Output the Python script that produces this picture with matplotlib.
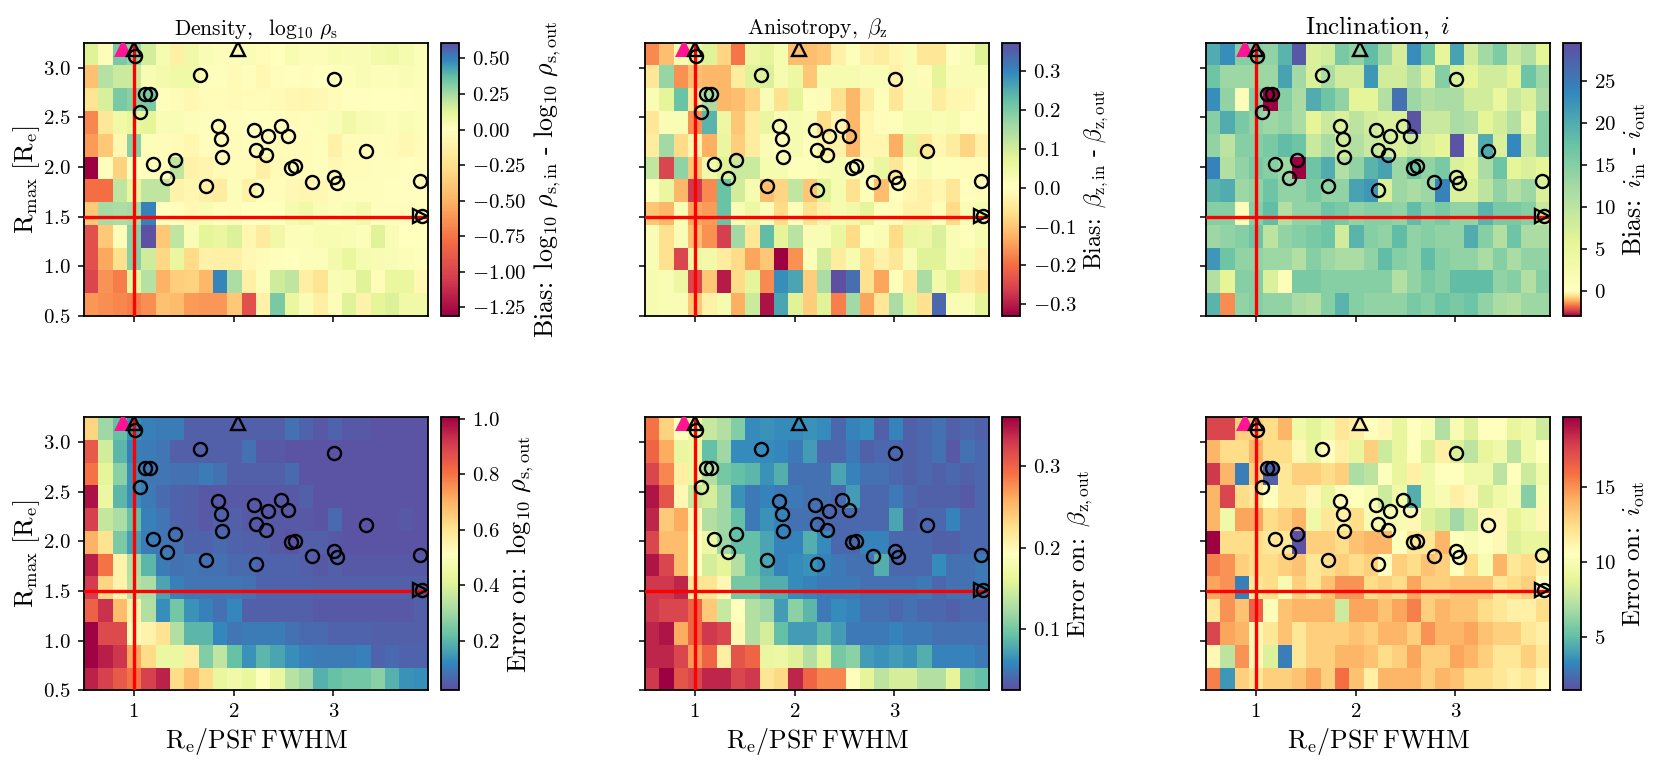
import numpy as np
import matplotlib
matplotlib.use("Agg")
import matplotlib.pyplot as plt
from matplotlib.colors import ListedColormap, Normalize

plt.rcParams.update({
    'font.family': 'cmr10', 'mathtext.fontset': 'cm',
    'axes.formatter.use_mathtext': True, 'axes.unicode_minus': True,
    'axes.linewidth': 1.3, 'xtick.major.width': 1.1, 'ytick.major.width': 1.1,
    'xtick.major.size': 4.5, 'ytick.major.size': 4.5,
})

density_bias = [
 [.13,.02,.33,.28,.16,.05,-.13,.07,.03,.02,.02,.03,-.03,0,.04,.02,.02,.04,.03,.03,.06,.08,.05,.02],
 [-.42,.22,.18,.18,.04,.06,.08,.08,.01,.01,-.05,-.02,-.07,-.02,-.01,-.02,0,0,.02,.03,.02,.02,.03,.02],
 [-.22,.15,.33,.3,.33,-.02,-.04,-.07,-.03,-.03,-.05,-.03,-.04,-.05,-.07,-.08,-.06,-.03,-.01,-.01,0,0,-.01,-.02],
 [-.68,-.2,.08,.1,.12,.03,.03,.02,.01,-.02,-.02,0,0,0,-.03,-.02,.02,.03,.07,.04,.03,.02,.03,.02],
 [-.6,-.38,-.07,.3,.02,-.03,-.05,-.08,-.02,-.02,-.03,-.02,-.02,-.04,-.04,-.03,-.02,-.12,-.04,-.03,-.02,-.03,-.07,-.03],
 [-1.31,.01,-.33,0,-.02,-.02,.2,-.1,-.09,-.05,-.03,-.04,-.13,-.05,-.04,-.04,-.02,-.06,-.04,-.03,-.02,-.02,-.01,-.02],
 [-.78,-.78,.2,.1,.2,.2,-.1,-.08,-.13,-.15,.02,-.12,-.03,-.04,-.06,-.08,-.06,-.04,-.02,-.02,.01,-.01,-.01,-.01],
 [-.38,.25,.24,.25,.5,-.01,-.02,-.07,.04,-.02,-.03,0,0,0,.05,.08,.03,.02,.03,.06,-.02,-.02,-.02,-.02],
 [-.95,-.38,.02,.3,.6,-.38,.2,.03,.12,.1,.14,-.08,-.17,.07,.02,.02,.04,.04,.03,.02,.13,.03,0,0],
 [-.95,-.55,-.25,.3,.17,-.3,.1,-.28,-.12,-.13,-.13,-.06,-.04,-.02,0,.02,.02,.06,.1,.05,.04,.03,.02,.01],
 [-1.0,-.63,-.72,.1,.22,-.5,-.35,-.33,-.48,.49,.24,-.13,.02,.17,.2,-.14,-.22,.03,.04,.13,-.03,.1,.1,-.07],
 [-.62,-.65,-.68,-.72,-.65,-.42,-.45,-.6,-.62,-.62,-.38,-.95,-.12,.33,.1,.03,-.14,.02,.13,-.1,.12,.14,.07,.07],
]
beta_bias = [
 [-.17,-.11,.02,.05,.08,-.08,-.19,.05,.07,.03,-.11,-.11,-.1,-.03,.01,-.03,-.04,-.02,.02,-.05,-.05,0,.02,.08],
 [-.05,.17,-.16,-.11,-.12,-.12,-.04,.08,.09,.03,.05,-.1,.03,.03,.03,.02,.02,-.03,.02,-.01,.07,.02,.02,.02],
 [.02,.07,.22,-.05,.15,-.12,-.11,-.08,.02,-.06,.07,.01,-.01,-.06,-.12,-.04,.01,-.05,.02,.02,-.04,-.02,-.02,0],
 [-.05,.02,.02,-.16,.24,.05,-.1,-.04,.06,.02,.03,.02,-.07,-.02,-.12,-.02,-.01,.01,.03,.03,.02,.03,0,.01],
 [-.04,.16,-.07,-.02,-.13,.06,-.09,-.04,.02,.01,.03,.01,-.03,-.03,-.12,-.02,-.02,-.13,.07,-.05,-.02,-.04,-.08,-.03],
 [.12,-.25,.18,-.1,.04,.08,.11,.11,.03,.03,.01,.01,.02,.03,.01,.02,.06,-.05,.01,.03,.01,.01,-.01,-.01],
 [.01,.06,-.12,-.27,-.17,.22,.1,.03,-.11,-.08,.12,-.1,.08,.03,-.06,.01,-.11,0,-.02,-.03,-.02,-.05,0,-.01],
 [-.1,-.12,.02,-.14,-.15,.22,.02,.05,.01,-.07,.01,-.06,-.03,.03,.04,.07,.01,-.01,-.03,-.03,.01,-.07,.02,.03],
 [.02,-.06,.02,-.11,-.16,-.26,.16,-.05,.23,.07,.13,.02,.02,.06,-.07,.01,.02,-.07,.06,.05,.09,.02,.01,.03],
 [.02,-.06,-.25,.05,.04,-.04,-.07,-.14,-.1,-.33,-.16,.01,.1,-.04,.03,-.06,-.03,-.05,.02,.08,.08,.02,.03,-.03],
 [.03,.02,.05,-.25,-.1,-.3,-.07,.07,-.17,.29,.26,-.09,.15,.37,.33,-.06,-.14,.01,-.05,.15,.04,.08,-.04,-.06],
 [.03,.02,.02,-.1,-.03,.03,-.13,.11,-.31,.26,.08,-.09,.08,-.18,.16,-.14,-.05,.15,.07,-.06,.34,.02,.02,.07],
]
incl_bias = [
 [20,23,15,15,14,19,28.5,7,8,16,14,18,13,7.5,23,17,5.5,21,8,12.5,15.5,9,11,6],
 [17,13,13,13,13,21,12.5,7,12,8,8,22,8,8,11,6.5,15,7,6,8,8,6,17,13],
 [23,14,1,15,-3,15,12,20,17,14,6,6,11,26,13,11,12,12,8,8,5,9,7,12],
 [15,20,16,14,13,14,12,6,9,7,10,8,7,7,29,9,9,12,11,6,8,11,4,15],
 [14,10,15,15,16,18,17,9,12,8,11,9,8,7,9,7,6,29,4,20,7,23.5,9,15],
 [24,11,14,16,15,13,-3,17,20,11,14,19,21,13,17,14,16,7,6,12,17,6,7,6],
 [19,20,13,14,17,14,14,16,14,14,21,22,7,13,12,13,24,7,7,10,14,11,13,7],
 [15,15,1,15,18,11,14,14,17,16,14,15,15,14,18,15,16,14,14,19,16,16,15,9],
 [13,14,15,17,10,14,15,16,17,8,19,15,14,18,14,15,14,14,20,15,11,17,12,12],
 [22,17,14,14,13,13,11,15,13,12,12,14,18,15,14,18,15,14,14,12,15,12,14,14],
 [11,6,15,15,7,1,16,16,15,15,15,15,15,11,14,16,15,18,18,18,14,15,11,15],
 [19,-1.5,14,15,14,14,12,11,15,19,15,14,14,14,16,15,17,16,17,14,12,11,13,13],
]
density_err = [
 [.63,.3,.22,.14,.11,.1,.1,.05,.05,.05,.05,.05,.05,.05,.08,.06,.04,.06,.04,.04,.03,.03,.03,.03],
 [.85,.38,.2,.11,.1,.09,.05,.05,.05,.05,.05,.08,.04,.04,.03,.03,.03,.03,.03,.03,.03,.03,.03,.03],
 [.8,.42,.27,.13,.09,.09,.08,.08,.1,.08,.05,.05,.05,.05,.07,.03,.03,.03,.03,.03,.03,.03,.03,.03],
 [.98,.44,.2,.13,.1,.07,.06,.05,.04,.04,.04,.04,.04,.04,.04,.05,.03,.03,.03,.03,.03,.03,.03,.03],
 [.9,.36,.32,.22,.11,.09,.06,.05,.04,.06,.05,.04,.04,.04,.04,.04,.03,.07,.03,.03,.03,.03,.04,.03],
 [.7,.6,.25,.16,.1,.09,.08,.06,.06,.07,.06,.05,.05,.04,.03,.05,.05,.04,.03,.03,.03,.03,.03,.03],
 [.96,.8,.55,.33,.2,.1,.08,.09,.08,.08,.07,.07,.06,.06,.06,.05,.04,.05,.04,.04,.04,.04,.04,.04],
 [.91,.63,.55,.34,.32,.17,.11,.09,.09,.09,.09,.08,.06,.06,.06,.06,.05,.05,.05,.05,.05,.05,.05,.05],
 [.83,.93,.68,.55,.33,.13,.24,.14,.11,.08,.12,.05,.05,.05,.05,.05,.04,.04,.04,.04,.04,.04,.04,.05],
 [1.0,.88,.88,.53,.55,.6,.33,.2,.2,.12,.09,.1,.1,.1,.08,.07,.07,.06,.06,.06,.05,.05,.05,.05],
 [1.0,.96,.92,.72,.62,.44,.44,.57,.26,.35,.22,.14,.2,.17,.13,.11,.1,.1,.1,.11,.06,.07,.06,.06],
 [.95,.9,.85,.8,.9,.95,.62,.68,.62,.43,.46,.43,.5,.43,.34,.3,.19,.22,.24,.24,.27,.19,.14,.13],
]
beta_err = [
 [.29,.235,.19,.17,.14,.13,.105,.06,.065,.06,.06,.065,.06,.04,.055,.06,.035,.055,.035,.04,.045,.035,.04,.035],
 [.3,.26,.165,.17,.09,.12,.06,.06,.06,.058,.05,.07,.04,.04,.05,.035,.04,.04,.035,.04,.045,.03,.045,.04],
 [.32,.28,.21,.17,.13,.1,.09,.085,.065,.08,.045,.045,.045,.075,.055,.045,.045,.04,.035,.04,.035,.04,.035,.04],
 [.35,.31,.2,.14,.15,.12,.065,.05,.055,.05,.05,.045,.045,.04,.07,.04,.04,.05,.04,.035,.035,.035,.03,.04],
 [.34,.24,.26,.2,.13,.12,.09,.05,.065,.055,.045,.045,.04,.04,.04,.04,.04,.075,.035,.04,.04,.055,.04,.04],
 [.32,.25,.25,.19,.17,.12,.09,.09,.075,.055,.055,.08,.06,.04,.04,.055,.055,.04,.04,.04,.035,.035,.04,.04],
 [.35,.32,.25,.19,.15,.16,.13,.09,.075,.055,.06,.065,.055,.05,.045,.045,.08,.04,.04,.04,.06,.045,.045,.05],
 [.33,.33,.34,.22,.22,.2,.1,.1,.08,.08,.06,.055,.05,.05,.05,.045,.045,.045,.045,.05,.04,.045,.045,.05],
 [.33,.32,.32,.3,.24,.14,.19,.13,.12,.07,.11,.085,.05,.06,.055,.045,.045,.04,.045,.04,.04,.035,.04,.04],
 [.34,.35,.26,.3,.33,.32,.2,.13,.15,.09,.07,.07,.085,.07,.05,.05,.05,.055,.05,.05,.045,.045,.045,.045],
 [.34,.34,.32,.27,.3,.21,.31,.3,.165,.17,.155,.13,.16,.1,.11,.07,.065,.07,.065,.08,.055,.055,.055,.05],
 [.33,.36,.31,.32,.34,.34,.32,.33,.22,.23,.34,.3,.28,.28,.195,.16,.135,.15,.15,.13,.13,.16,.1,.09],
]
incl_err = [
 [17.5,17.5,13,13,12.5,14,9.5,8.7,9.5,12,11.5,10.5,11,9,10.5,10,7.2,10,8.5,10.5,10.5,9,9.5,8],
 [14,12.5,12.5,14,12.5,12.5,11,9,10.5,11.5,9,13,8,9,10.5,8.5,11.5,8.5,7.5,9,9.5,7.5,9.5,10.5],
 [18,14,3,13,2,12,13,13,12.5,13,7,7.5,10.5,9,11.5,9.5,10.5,10.5,9.5,9.5,7.5,10.5,8,9.5],
 [14,17.5,12.5,12,10.5,12,12,11,9,10.5,10.5,10,8,9.5,4.5,9.5,10,11.5,11,8.5,9.5,10,6,10],
 [14,9.5,14.5,14.5,12.5,13,14,9.5,12,11.5,12.5,10,10,10,11,8.5,8,6.7,8,11,11,8.8,9.5,11],
 [19.7,12.5,12.5,12.5,12,12,1.6,13,13,12.5,13.5,14,14,10.5,12,12,14,10.5,10,10.5,11,8.5,9,9],
 [15.5,15,13,12.5,12.5,13,13.5,12,12.5,13,12.5,13,10.5,13,12.5,13.5,13,10.5,12.5,10,14,12,12.5,11.5],
 [14.5,15,3,12,12.5,10,13,12,13.5,15,15,12.5,13,12.5,14.5,13,13,13.5,13.5,13.5,12,12.5,13,10.5],
 [12,15,13.5,16.5,10.3,13.5,14,14,14,8,14.5,14.5,13.5,14.5,15.5,13,14,13.5,13.5,12.5,12,11.5,11.5,12.5],
 [17.5,14.5,14,11,12,13.5,12,13,13,13,13.5,13,14,14,13,15,14,14,14.5,13.5,13,13,12,11.5],
 [11,7.5,15,11,8.5,3,12,13,13,14,14,13.5,12.5,13,14.5,13,13,14.5,14,13,12,12,13,12],
 [15.5,3.8,13,12,13,13,13.5,14.5,13,16,13.5,11.5,14,14,14,13,14,13.5,12.5,12.5,12,11.5,12,11],
]

circle_x = [1.007,1.66,3.01,1.11,1.16,1.063,1.843,1.877,1.88,2.207,2.347,2.477,2.55,2.22,2.327,
            3.333,1.193,1.413,1.337,1.72,2.23,2.573,2.62,2.787,3.01,3.037,3.87,3.887]
circle_y = [3.12,2.93,2.886,2.735,2.735,2.55,2.407,2.277,2.10,2.367,2.307,2.41,2.31,2.173,2.116,
            2.163,2.025,2.069,1.891,1.811,1.771,1.989,2.005,1.848,1.898,1.841,1.858,1.51]
tri_up_x = [1.003, 2.047]
tri_up_y = [3.19, 3.19]
tri_right_x = [3.87]
tri_right_y = [1.51]
pink_x = [0.893]
pink_y = [3.2]
psf_limit = 1.0
rmax_limit = 1.5

XMIN, XMAX, YMIN, YMAX = 0.5, 3.95, 0.5, 3.25
W, H = 1660, 768
fig = plt.figure(figsize=(W/100, H/100), dpi=100)

def shifted_spectral(vmin, vmax):
    mid = (0 - vmin) / (vmax - vmin)
    t = np.linspace(0, 1, 1024)
    f = np.where(t < mid, 0.5 * t / mid, 0.5 + 0.5 * (t - mid) / (1 - mid))
    return ListedColormap(plt.get_cmap('Spectral')(f))

def box(x0, x1, y0, y1):
    return [x0 / W, 1 - y1 / H, (x1 - x0) / W, (y1 - y0) / H]

col_x = [(84, 428, 441, 459), (645, 989, 1002, 1020), (1206, 1550, 1563, 1581)]
row_y = [(42.7, 316), (417, 690.3)]

TITLES = [r'$\mathrm{Density,\ \ \log_{10}\,\rho_s}$', r'$\mathrm{Anisotropy,\ \beta_z}$', r'$\mathrm{Inclination,\ }i$']
TITLE_FS = [15.5, 15.5, 18]
CB_LABELS = [
    [r'$\mathrm{Bias\!:\ \log_{10}\,\rho_{s,in}\ \text{-}\ \log_{10}\,\rho_{s,out}}$',
     r'$\mathrm{Bias\!:\ \beta_{z,in}\ \text{-}\ \beta_{z,out}}$',
     r'$\mathrm{Bias\!:\ }i_{\mathrm{in}}\ \text{-}\ i_{\mathrm{out}}$'],
    [r'$\mathrm{Error\ on\!:\ \log_{10}\,\rho_{s,out}}$',
     r'$\mathrm{Error\ on\!:\ \beta_{z,out}}$',
     r'$\mathrm{Error\ on\!:\ }i_{\mathrm{out}}$'],
]
CB_FS = [[18.7, 17, 18.5], [19, 18, 18]]
DATA = [[density_bias, beta_bias, incl_bias], [density_err, beta_err, incl_err]]
LIMS = [[(-1.31, .61), (-.33, .373), (-2.97, 29.55)], [(.0216, 1.007), (.0243, .3606), (1.47, 19.7)]]
TICKS = [[np.arange(-1.25, .51, .25), np.arange(-.3, .31, .1), np.arange(0, 26, 5)],
         [np.arange(.2, 1.01, .2), np.arange(.1, .31, .1), np.arange(5, 16, 5)]]
FMT = [['%.2f', '%.1f', '%d'], ['%.1f', '%.1f', '%d']]

xe = np.linspace(XMIN, XMAX, 25)
ye = np.linspace(YMAX, YMIN, 13)

for r in range(2):
    for c in range(3):
        x0, x1, cx0, cx1 = col_x[c]
        y0, y1 = row_y[r]
        ax = fig.add_axes(box(x0, x1, y0, y1))
        vmin, vmax = LIMS[r][c]
        cmap = shifted_spectral(vmin, vmax) if r == 0 else plt.get_cmap('Spectral_r')
        m = ax.pcolormesh(xe, ye, np.array(DATA[r][c], float), cmap=cmap,
                          norm=Normalize(vmin, vmax), linewidth=0, rasterized=True)
        ax.axvline(psf_limit, color='red', lw=2.4, zorder=3)
        ax.axhline(rmax_limit, color='red', lw=2.4, zorder=3)
        ax.plot(pink_x, pink_y, '^', color='#ff1493', ms=13, mew=0, zorder=4)
        ax.plot(circle_x, circle_y, 'o', mfc='none', mec='k', ms=9.4, mew=1.7, zorder=5)
        ax.plot(tri_up_x, tri_up_y, '^', mfc='none', mec='k', ms=10, mew=1.7, zorder=5)
        ax.plot(tri_right_x, tri_right_y, '>', mfc='none', mec='k', ms=10, mew=1.7, zorder=5)
        ax.set_xlim(XMIN, XMAX)
        ax.set_ylim(YMIN, YMAX)
        ax.set_xticks([1, 2, 3])
        ax.set_yticks([.5, 1, 1.5, 2, 2.5, 3])
        ax.tick_params(labelsize=15, pad=5)
        if r == 1:
            ax.set_xticklabels(['$1$', '$2$', '$3$'])
            ax.set_xlabel(r'$\mathrm{R_e/PSF\,FWHM}$', fontsize=18.6, labelpad=3)
        else:
            ax.set_xticklabels([])
            ax.set_title(TITLES[c], fontsize=TITLE_FS[c], pad=6)
        if c == 0:
            ax.set_yticklabels(['$%.1f$' % v for v in [.5, 1, 1.5, 2, 2.5, 3]])
            ax.set_ylabel(r'$\mathrm{R_{max}\ [R_e]}$', fontsize=19, labelpad=1)
        else:
            ax.set_yticklabels([])
        cax = fig.add_axes(box(cx0, cx1, y0, y1))
        cb = fig.colorbar(m, cax=cax)
        cb.set_ticks(TICKS[r][c])
        cb.set_ticklabels([('$' + FMT[r][c] + '$') % v if FMT[r][c] != '%d' else '$%d$' % round(v)
                           for v in TICKS[r][c]])
        cb.ax.tick_params(labelsize=15, pad=5)
        cb.set_label(CB_LABELS[r][c], fontsize=CB_FS[r][c], labelpad=4)

fig.savefig('out.png', dpi=100)
